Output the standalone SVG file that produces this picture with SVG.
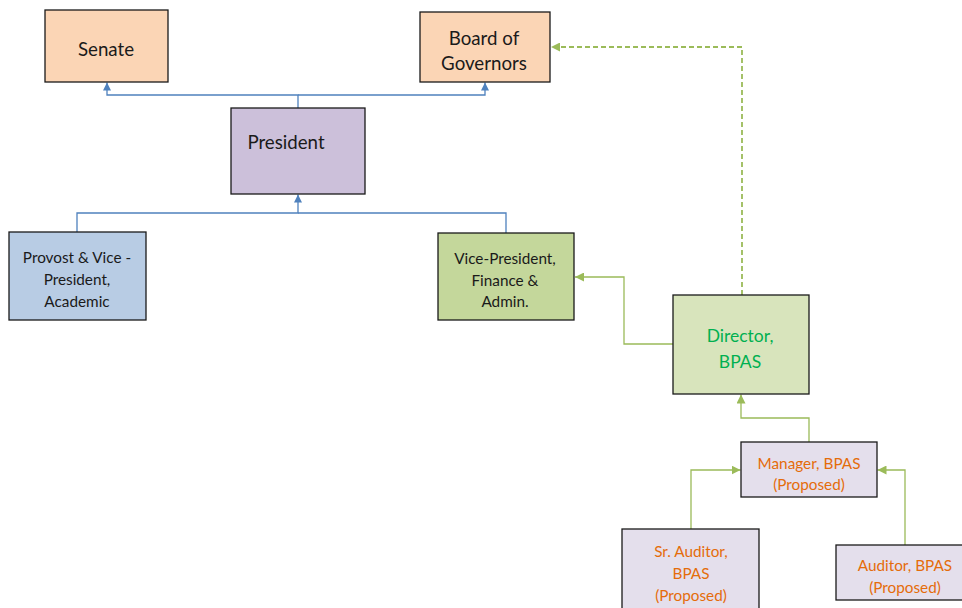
<svg xmlns="http://www.w3.org/2000/svg" width="962" height="608" viewBox="0 0 962 608">
<defs>
<style>
.box{stroke:#1a1a1a;stroke-width:1.3}
.t{font-family:Lato,"Liberation Sans",sans-serif;text-anchor:middle;fill:#1a1a1a}
.big{font-size:18.7px}
.mid{font-size:15.3px}
.dir{font-size:17.5px;fill:#00b050}
.org{font-size:15.3px;fill:#e46c0a}
.blue{fill:none;stroke:#4f81bd;stroke-width:1.3}
.green{fill:none;stroke:#9bbb59;stroke-width:1.3}
.dash{fill:none;stroke:#9bbb59;stroke-width:1.8;stroke-dasharray:5,3}
</style>
<marker id="ab" viewBox="0 0 10 10" refX="10" refY="5" markerWidth="8" markerHeight="8" markerUnits="userSpaceOnUse" orient="auto"><path d="M0,0L10,5L0,10z" fill="#4f81bd"/></marker>
<marker id="ag" viewBox="0 0 10 10" refX="10" refY="5" markerWidth="9" markerHeight="9" markerUnits="userSpaceOnUse" orient="auto"><path d="M0,0L10,5L0,10z" fill="#9bbb59"/></marker>
</defs>
<rect width="962" height="608" fill="#fff"/>
<g id="connectors">
<path class="blue" d="M298,108V95H107V82.5" marker-end="url(#ab)"/>
<path class="blue" d="M298,95H485V82.5" marker-end="url(#ab)"/>
<path class="blue" d="M77,232V213H298V194.5" marker-end="url(#ab)"/>
<path class="blue" d="M506,233V213H298"/>
<path class="dash" d="M742,295V47H551" marker-end="url(#ag)"/>
<path class="green" d="M673,344H624V277H575" marker-end="url(#ag)"/>
<path class="green" d="M809,442V418H741V394.5" marker-end="url(#ag)"/>
<path class="green" d="M691,529V470H740.5" marker-end="url(#ag)"/>
<path class="green" d="M905,545V470H877.5" marker-end="url(#ag)"/>
</g>
<g id="senate"><rect class="box" x="45" y="10" width="123" height="72" fill="#fbd5b5"/><text class="t big" x="106" y="56">Senate</text></g>
<g id="board"><rect class="box" x="420" y="12" width="130" height="70" fill="#fbd5b5"/><text class="t big" x="484" y="45">Board of</text><text class="t big" x="484" y="70">Governors</text></g>
<g id="president"><rect class="box" x="231" y="108" width="134" height="86" fill="#ccc0da"/><text class="t big" x="286" y="149">President</text></g>
<g id="provost"><rect class="box" x="9" y="232" width="137" height="88" fill="#b8cce4"/><text class="t mid" x="77" y="263">Provost &amp; Vice -</text><text class="t mid" x="77" y="285">President,</text><text class="t mid" x="77" y="307">Academic</text></g>
<g id="vp"><rect class="box" x="438" y="233" width="136" height="87" fill="#c4d79b"/><text class="t mid" x="505" y="264">Vice-President,</text><text class="t mid" x="505" y="286">Finance &amp;</text><text class="t mid" x="505" y="307">Admin.</text></g>
<g id="director"><rect class="box" x="673" y="295" width="136" height="99" fill="#d8e4bc"/><text class="t dir" x="740" y="342">Director,</text><text class="t dir" x="740" y="368">BPAS</text></g>
<g id="manager"><rect class="box" x="741" y="442" width="136" height="55" fill="#e4dfec"/><text class="t org" x="809" y="469">Manager, BPAS</text><text class="t org" x="809" y="490">(Proposed)</text></g>
<g id="sr-auditor"><rect class="box" x="622" y="529" width="137" height="85" fill="#e4dfec"/><text class="t org" x="691" y="557">Sr. Auditor,</text><text class="t org" x="691" y="579">BPAS</text><text class="t org" x="691" y="601">(Proposed)</text></g>
<g id="auditor"><rect class="box" x="836" y="545" width="136" height="55" fill="#e4dfec"/><text class="t org" x="905" y="571">Auditor, BPAS</text><text class="t org" x="905" y="593">(Proposed)</text></g>
</svg>
